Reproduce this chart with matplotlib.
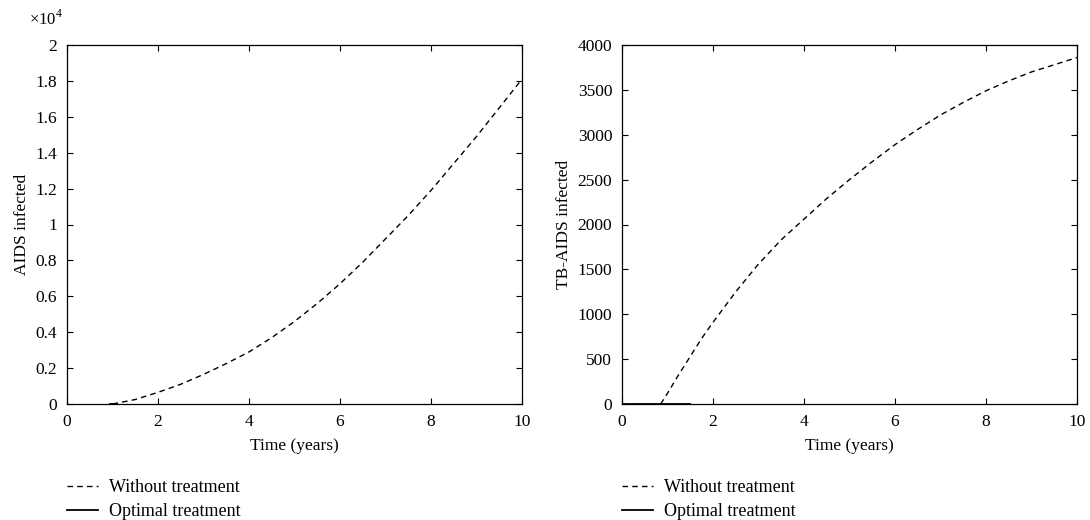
import numpy as np
import matplotlib.pyplot as plt

plt.rcParams["font.family"] = ["Liberation Serif", "DejaVu Serif"]
plt.rcParams["mathtext.fontset"] = "custom"
plt.rcParams["mathtext.rm"] = "Liberation Serif"

# AIDS infected (x 1e4), without treatment
aids_t = [1.0, 1.5, 2.0, 2.5, 3.0, 3.5, 4.0, 4.5, 5.0, 5.5, 6.0, 6.5, 7.0, 7.5, 8.0, 8.5, 9.0, 9.5, 10.0]
aids_without = [0.0, 0.025, 0.065, 0.11, 0.165, 0.225, 0.29, 0.37, 0.46, 0.56, 0.67, 0.79, 0.92, 1.05, 1.19, 1.34, 1.49, 1.65, 1.81]
aids_opt_t = [0.95, 1.1]
aids_opt = [0.0, 0.0]

# TB-AIDS infected, without treatment
tb_t = [0.85, 1.0, 1.25, 1.5, 1.75, 2.0, 2.5, 3.0, 3.5, 4.0, 4.5, 5.0, 5.5, 6.0, 6.5, 7.0, 7.5, 8.0, 8.5, 9.0, 9.5, 10.0]
tb_without = [0, 120, 330, 530, 730, 910, 1250, 1560, 1830, 2060, 2290, 2500, 2700, 2890, 3060, 3220, 3360, 3490, 3600, 3700, 3780, 3860]
tb_opt_t = [0.0, 1.5]
tb_opt = [0, 0]

fig = plt.figure(figsize=(10.9, 5.2), dpi=100)
ax1 = fig.add_axes([67 / 1090, 1 - 404 / 520, 455 / 1090, 359 / 520])
ax2 = fig.add_axes([622 / 1090, 1 - 404 / 520, 455 / 1090, 359 / 520])

for ax in (ax1, ax2):
    ax.tick_params(direction="in", top=True, right=True, labelsize=12.5, length=4, pad=7)
    ax.set_xlim(0, 10)
    ax.set_xticks([0, 2, 4, 6, 8, 10])
    ax.set_xlabel("Time (years)", fontsize=12.5, labelpad=6)
    for s in ax.spines.values():
        s.set_linewidth(0.9)

ax1.plot(aids_t, aids_without, "k--", lw=1.0, dashes=(4, 3), label="Without treatment")
ax1.plot(aids_opt_t, aids_opt, "k-", lw=1.3, label="Optimal treatment")
ax1.set_ylim(0, 2)
ax1.set_yticks(np.arange(0, 2.01, 0.2))
ax1.set_yticklabels(["0", "0.2", "0.4", "0.6", "0.8", "1", "1.2", "1.4", "1.6", "1.8", "2"])
ax1.set_ylabel("AIDS infected", fontsize=12.5)
ax1.text(-0.01, 1.045, r"$\times10^{4}$", transform=ax1.transAxes, ha="right", va="bottom", fontsize=12)

ax2.plot(tb_t, tb_without, "k--", lw=1.0, dashes=(4, 3), label="Without treatment")
ax2.plot(tb_opt_t, tb_opt, "k-", lw=1.3, label="Optimal treatment")
ax2.set_ylim(0, 4000)
ax2.set_yticks(np.arange(0, 4001, 500))
ax2.set_ylabel("TB-AIDS infected", fontsize=12.5)

for ax in (ax1, ax2):
    ax.legend(loc="upper left", bbox_to_anchor=(0.0, -0.21), frameon=False,
              fontsize=13, handlelength=1.7, handletextpad=0.6, borderaxespad=0,
              borderpad=0, labelspacing=0.38)

fig.savefig("out.png", dpi=100)
